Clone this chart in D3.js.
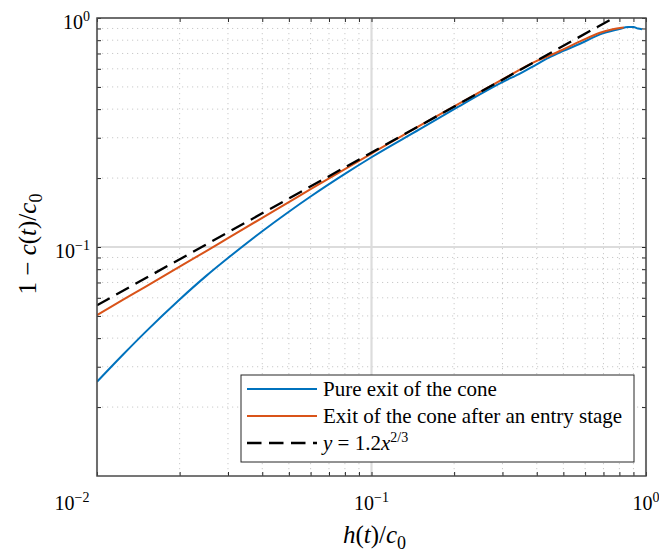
<!DOCTYPE html>
<html><head><meta charset="utf-8">
<script src="https://cdn.jsdelivr.net/npm/d3@7"></script>
</head><body style="margin:0">
<svg id="s" width="659" height="554" style="font-family:'Liberation Serif'"></svg>
<script>
// ---------------- data ----------------
const xPure = [0.01, 0.0125, 0.015, 0.02, 0.025, 0.03, 0.04, 0.05, 0.06, 0.08, 0.1, 0.15, 0.2, 0.3, 0.35, 0.4, 0.45, 0.5, 0.575, 0.68, 0.8, 0.86, 0.9, 0.935, 0.967];
const yPure = [0.0258, 0.0341, 0.0425, 0.0590, 0.0748, 0.0895, 0.1172, 0.1426, 0.1662, 0.2086, 0.2466, 0.327, 0.400, 0.525, 0.575, 0.628, 0.678, 0.718, 0.772, 0.848, 0.895, 0.914, 0.913, 0.899, 0.893];
const xEntry = [0.01, 0.0125, 0.015, 0.02, 0.025, 0.03, 0.04, 0.05, 0.06, 0.08, 0.1, 0.15, 0.2, 0.3, 0.4, 0.45, 0.5, 0.575, 0.68, 0.75, 0.83];
const yEntry = [0.0504, 0.059, 0.067, 0.082, 0.096, 0.1093, 0.1341, 0.157, 0.1788, 0.219, 0.256, 0.339, 0.4116, 0.539, 0.650, 0.689, 0.730, 0.790, 0.862, 0.890, 0.908];
const fitCoef = 1.2, fitExp = 2 / 3;
const fitX = [0.01, 1];
const xDomain = [0.01, 1];
const yDomain = [0.01, 1];
const xMajorTicks = [0.01, 0.1, 1];
const yMajorTicks = [0.1, 1];
const minorMultipliers = [2, 3, 4, 5, 6, 7, 8, 9];
const legendLabels = ["Pure exit of the cone", "Exit of the cone after an entry stage", "fit"];
const seriesColors = ["#0072BD", "#D95319", "#000000"];

// ---------------- layout ----------------
const L = 97, R = 646, T = 18, B = 476;
const svg = d3.select("#s");
const x = d3.scaleLog().domain(xDomain).range([L, R]);
const y = d3.scaleLog().domain(yDomain).range([B, T]);
function txt(parent, size) {
  return parent.append("text").style("font-family", "'Liberation Serif'").style("font-size", size + "px");
}

function minorOf(domain) {
  const out = [];
  for (let d = domain[0]; d < domain[1] * 0.999; d *= 10) {
    minorMultipliers.forEach(k => out.push(d * k));
  }
  return out;
}
const xMinor = minorOf(xDomain);
const yMinor = minorOf(yDomain);

svg.append("defs").append("clipPath").attr("id", "clip")
  .append("rect").attr("x", L).attr("y", T).attr("width", R - L).attr("height", B - T);

// minor grid
const grid = svg.append("g");
grid.selectAll(".gxm").data(xMinor).join("line")
  .attr("x1", d => x(d)).attr("x2", d => x(d)).attr("y1", T).attr("y2", B)
  .attr("stroke", "#bdbdbd").attr("stroke-width", 0.8).attr("stroke-dasharray", "1.2,3.8");
grid.selectAll(".gym").data(yMinor).join("line")
  .attr("y1", d => y(d)).attr("y2", d => y(d)).attr("x1", L).attr("x2", R)
  .attr("stroke", "#bdbdbd").attr("stroke-width", 0.8).attr("stroke-dasharray", "1.2,3.8");
// major grid
grid.selectAll(".gxM").data(xMajorTicks).join("line")
  .attr("x1", d => x(d)).attr("x2", d => x(d)).attr("y1", T).attr("y2", B)
  .attr("stroke", "#dcdcdc").attr("stroke-width", 2.2);
grid.selectAll(".gyM").data(yMajorTicks).join("line")
  .attr("y1", d => y(d)).attr("y2", d => y(d)).attr("x1", L).attr("x2", R)
  .attr("stroke", "#dcdcdc").attr("stroke-width", 2.2);

// curves
const plot = svg.append("g").attr("clip-path", "url(#clip)");
const line = d3.line().x(d => x(d[0])).y(d => y(d[1])).curve(d3.curveMonotoneX);
plot.append("path").datum(xPure.map((v, i) => [v, yPure[i]]))
  .attr("d", line).attr("fill", "none").attr("stroke", seriesColors[0]).attr("stroke-width", 2);
plot.append("path").datum(xEntry.map((v, i) => [v, yEntry[i]]))
  .attr("d", line).attr("fill", "none").attr("stroke", seriesColors[1]).attr("stroke-width", 2);
plot.append("path").datum(fitX.map(v => [v, fitCoef * Math.pow(v, fitExp)]))
  .attr("d", d3.line().x(d => x(d[0])).y(d => y(d[1])))
  .attr("fill", "none").attr("stroke", seriesColors[2]).attr("stroke-width", 2.3)
  .attr("stroke-dasharray", "14.5,7.5");

// axes (ticks inward on all sides)
const allX = xMajorTicks.concat(xMinor), allY = yMajorTicks.concat(yMinor);
function styleAxis(g) {
  g.select(".domain").remove();
  g.selectAll(".tick line").attr("stroke", "#262626").attr("stroke-width", 1);
  g.selectAll(".tick text").remove();
  g.attr("font-family", null).attr("font-size", null);
}
svg.append("g").attr("transform", `translate(0,${B})`)
  .call(d3.axisBottom(x).tickValues(allX).tickSizeInner(-4).tickSizeOuter(0).tickFormat(""))
  .call(styleAxis);
svg.append("g").attr("transform", `translate(0,${T})`)
  .call(d3.axisTop(x).tickValues(allX).tickSizeInner(-4).tickSizeOuter(0).tickFormat(""))
  .call(styleAxis);
svg.append("g").attr("transform", `translate(${L},0)`)
  .call(d3.axisLeft(y).tickValues(allY).tickSizeInner(-4).tickSizeOuter(0).tickFormat(""))
  .call(styleAxis);
svg.append("g").attr("transform", `translate(${R},0)`)
  .call(d3.axisRight(y).tickValues(allY).tickSizeInner(-4).tickSizeOuter(0).tickFormat(""))
  .call(styleAxis);

svg.append("rect").attr("x", L).attr("y", T).attr("width", R - L).attr("height", B - T)
  .attr("fill", "none").attr("stroke", "#4a4a4a").attr("stroke-width", 1.5);

// tick labels
function expLabel(v) { return String(Math.round(Math.log10(v))).replace("-", "\u2212"); }
function powText(sel, v) {
  sel.append("tspan").text("10");
  sel.append("tspan").style("font-size", "14px").attr("dy", -8).text(expLabel(v));
}
xMajorTicks.forEach((v, i) => {
  const t = txt(svg, 20).attr("x", x(v) + (i === 0 ? -25 : 0)).attr("y", 510)
    .attr("text-anchor", "middle");
  powText(t, v);
});
yMajorTicks.forEach(v => {
  const t = txt(svg, 20).attr("x", 90).attr("y", y(v) + 11)
    .attr("text-anchor", "end");
  powText(t, v);
});

// axis titles
const xt = txt(svg, 25).attr("x", (L + R) / 2 + 3).attr("y", 543).attr("text-anchor", "middle");
xt.append("tspan").style("font-style", "italic").text("h");
xt.append("tspan").text("(");
xt.append("tspan").style("font-style", "italic").text("t");
xt.append("tspan").text(")/");
xt.append("tspan").style("font-style", "italic").text("c");
xt.append("tspan").style("font-size", "18px").attr("dy", 6).text("0");

const yt = txt(svg, 25).attr("transform", `translate(36,${(T + B) / 2 - 3}) rotate(-90)`)
  .attr("text-anchor", "middle");
yt.append("tspan").text("1 \u2212 ");
yt.append("tspan").style("font-style", "italic").text("c");
yt.append("tspan").text("(");
yt.append("tspan").style("font-style", "italic").text("t");
yt.append("tspan").text(")/");
yt.append("tspan").style("font-style", "italic").text("c");
yt.append("tspan").style("font-size", "18px").attr("dy", 6).text("0");

// legend
const lg = svg.append("g");
lg.append("rect").attr("x", 241).attr("y", 375).attr("width", 393).attr("height", 87)
  .attr("fill", "#fff").attr("stroke", "#262626").attr("stroke-width", 1);
const rowY = [389, 416, 443];
legendLabels.forEach((lab, i) => {
  const ln = lg.append("line").attr("x1", 247).attr("x2", 317).attr("y1", rowY[i]).attr("y2", rowY[i])
    .attr("stroke", seriesColors[i]).attr("stroke-width", i === 2 ? 2.3 : 2);
  if (i === 2) ln.attr("stroke-dasharray", "14.5,7.5");
  const t = txt(lg, 21).attr("x", 323).attr("y", rowY[i] + 7);
  if (i < 2) t.text(lab);
  else {
    t.append("tspan").style("font-style", "italic").text("y");
    t.append("tspan").text(" = " + fitCoef.toFixed(1));
    t.append("tspan").style("font-style", "italic").text("x");
    t.append("tspan").style("font-size", "14px").attr("dy", -8).text("2/3");
  }
});
</script>
</body></html>
